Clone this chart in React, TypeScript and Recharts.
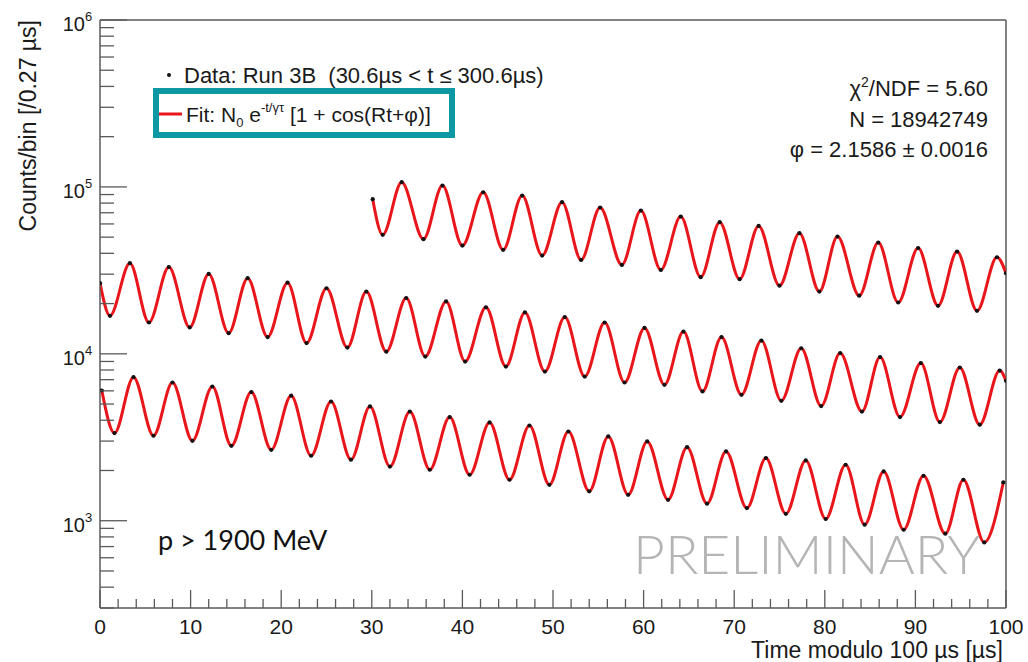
import React from 'react';
import { ComposedChart, Line, Scatter, XAxis, YAxis, ReferenceLine } from 'recharts';

// ---- data (time modulo 100 us, counts per bin) ----
const TOP_T = [30.1, 31.2, 33.3, 35.7, 37.8, 40.0, 42.3, 44.5, 46.6, 48.8, 51.0, 53.1, 55.2, 57.6, 59.7, 61.9, 64.1, 66.3, 68.4, 70.6, 72.7, 75.0, 77.2, 79.4, 81.4, 83.8, 85.9, 88.1, 90.3, 92.5, 94.6, 96.8, 99.0, 100];
const TOP_N = [84400, 51600, 106700, 48600, 101800, 44500, 92900, 42000, 88700, 38800, 81000, 36500, 75200, 34100, 72100, 31800, 66400, 28800, 61500, 28000, 58400, 25600, 52800, 23600, 50400, 22300, 46400, 20300, 43000, 19400, 41000, 18100, 37900, 30400];

const MID_T = [0, 1.1, 3.3, 5.4, 7.6, 9.9, 12.0, 14.2, 16.3, 18.5, 20.7, 22.8, 25.0, 27.3, 29.4, 31.6, 33.8, 35.9, 38.2, 40.3, 42.6, 44.8, 46.9, 49.1, 51.3, 53.5, 55.7, 57.9, 60.1, 62.3, 64.4, 66.5, 68.6, 70.8, 73.0, 75.2, 77.4, 79.6, 81.7, 84.1, 86.1, 88.3, 90.6, 92.7, 94.9, 97.1, 99.3, 100];
const MID_N = [26500, 16900, 34900, 15400, 33100, 14400, 30100, 13300, 28400, 12600, 26700, 11600, 24700, 10900, 23600, 10300, 21600, 9630, 20600, 8990, 19000, 8390, 17700, 7830, 16600, 7310, 15400, 6730, 14300, 6520, 13600, 5950, 12600, 5680, 12000, 5230, 10800, 4860, 10100, 4510, 9560, 4180, 8800, 3900, 8280, 3760, 7940, 6890];

const BOT_T = [0.2, 1.6, 3.7, 5.9, 8.0, 10.2, 12.4, 14.5, 16.7, 18.9, 21.1, 23.3, 25.5, 27.7, 29.8, 32.0, 34.2, 36.4, 38.6, 40.8, 43.0, 45.2, 47.4, 49.6, 51.7, 54.0, 56.1, 58.3, 60.4, 62.7, 64.8, 67.0, 69.1, 71.4, 73.5, 75.7, 77.9, 80.1, 82.3, 84.4, 86.5, 88.7, 90.9, 93.3, 95.3, 97.6, 99.7];
const BOT_N = [6030, 3350, 7250, 3230, 6730, 3010, 6370, 2810, 5900, 2660, 5610, 2450, 5180, 2320, 4840, 2110, 4510, 2020, 4180, 1885, 3880, 1760, 3720, 1640, 3425, 1500, 3200, 1430, 2985, 1335, 2760, 1265, 2600, 1190, 2373, 1100, 2297, 1024, 2165, 947, 1973, 883, 1860, 836, 1760, 741, 1696];

const X_TICKS = [0, 2, 4, 6, 8, 10, 12, 14, 16, 18, 20, 22, 24, 26, 28, 30, 32, 34, 36, 38, 40, 42, 44, 46, 48, 50, 52, 54, 56, 58, 60, 62, 64, 66, 68, 70, 72, 74, 76, 78, 80, 82, 84, 86, 88, 90, 92, 94, 96, 98, 100];
const Y_TICKS = [300, 400, 500, 600, 700, 800, 900, 1000, 2000, 3000, 4000, 5000, 6000, 7000, 8000, 9000, 10000, 20000, 30000, 40000, 50000, 60000, 70000, 80000, 90000, 100000, 200000, 300000, 400000, 500000, 600000, 700000, 800000, 900000, 1000000];

const zip = (t: number[], n: number[]) => t.map((v, i) => ({ t: v, n: n[i] }));
const TOP = zip(TOP_T, TOP_N);
const MID = zip(MID_T, MID_N);
const BOT = zip(BOT_T, BOT_N);

const FONT = '"Liberation Sans", Arial, Helvetica, sans-serif';
const AXIS = '#5a5a5a';
const RED = '#e8161b';
const INK = '#1a1a1a';

const XTick = (props: any) => {
  const { x, y, payload } = props;
  const v = payload.value;
  const major = v % 10 === 0;
  return (
    <g>
      <line x1={x} y1={y} x2={x} y2={y - (major ? 18 : 9)} stroke={AXIS} strokeWidth={1.3} />
      {major && (
        <text x={x} y={y + 26} textAnchor="middle" fontSize={21} fill={INK} fontFamily={FONT}>
          {v}
        </text>
      )}
    </g>
  );
};

const YTick = (props: any) => {
  const { x, y, payload } = props;
  const v = payload.value;
  const lg = Math.log10(v);
  const e = Math.round(lg);
  const major = Math.abs(lg - e) < 1e-6;
  return (
    <g>
      <line x1={x} y1={y} x2={x + (major ? 27 : 14)} y2={y} stroke={AXIS} strokeWidth={1.3} />
      {major && (
        <text x={x - 15} y={y + 11} textAnchor="end" fontSize={20} fill={INK} fontFamily={FONT}>
          10
        </text>
      )}
      {major && (
        <text x={x - 15} y={y + 1} textAnchor="start" fontSize={13} fill={INK} fontFamily={FONT}>
          {e}
        </text>
      )}
    </g>
  );
};

const Dot = (p: any) => <circle cx={p.cx} cy={p.cy} r={2.1} fill="#111" />;

export default function App() {
  return (
    <div style={{ position: 'absolute', left: 0, top: 0, width: 1028, height: 662, background: '#fff' }}>
      <ComposedChart width={1028} height={662} margin={{ top: 20, right: 22, bottom: 24, left: 40 }}>
        <XAxis
          type="number"
          dataKey="t"
          domain={[0, 100]}
          ticks={X_TICKS}
          interval={0}
          tickLine={false}
          tickSize={0}
          tickMargin={0}
          tick={<XTick />}
          axisLine={{ stroke: AXIS, strokeWidth: 1.5 }}
          height={30}
          allowDataOverflow
        />
        <YAxis
          type="number"
          dataKey="n"
          scale="log"
          domain={[300, 1000000]}
          ticks={Y_TICKS}
          interval={0}
          tickLine={false}
          tickSize={0}
          tickMargin={0}
          tick={<YTick />}
          axisLine={{ stroke: AXIS, strokeWidth: 1.5 }}
          width={60}
          allowDataOverflow
        />
        <ReferenceLine x={100} stroke={AXIS} strokeWidth={1.5} />
        <ReferenceLine y={1000000} stroke={AXIS} strokeWidth={1.5} />
        <Line data={TOP} dataKey="n" type="monotone" stroke={RED} strokeWidth={3} dot={false} isAnimationActive={false} />
        <Line data={MID} dataKey="n" type="monotone" stroke={RED} strokeWidth={3} dot={false} isAnimationActive={false} />
        <Line data={BOT} dataKey="n" type="monotone" stroke={RED} strokeWidth={3} dot={false} isAnimationActive={false} />
        <Scatter data={TOP} dataKey="n" shape={<Dot />} isAnimationActive={false} />
        <Scatter data={MID} dataKey="n" shape={<Dot />} isAnimationActive={false} />
        <Scatter data={BOT} dataKey="n" shape={<Dot />} isAnimationActive={false} />
      </ComposedChart>
      <svg
        width={1028}
        height={662}
        style={{ position: 'absolute', left: 0, top: 0, pointerEvents: 'none' }}
      >
        {/* axis titles */}
        <text transform="translate(36,20) rotate(-90)" textAnchor="end" fontSize={23} fill={INK} fontFamily={FONT}>
          Counts/bin [/0.27 µs]
        </text>
        <text x={1003} y={658} textAnchor="end" fontSize={23} fill={INK} fontFamily={FONT}>
          Time modulo 100 µs [µs]
        </text>
        {/* legend */}
        <circle cx={169} cy={75} r={2} fill="#111" />
        <text x={184} y={83} fontSize={22} fill={INK} fontFamily={FONT}>
          Data: Run 3B{'\u00a0\u00a0'}(30.6µs &lt; t ≤ 300.6µs)
        </text>
        <line x1={159} y1={114} x2={182} y2={114} stroke={RED} strokeWidth={3} />
        <text x={186} y={122} fontSize={21} fill={INK} fontFamily={FONT}>
          <tspan>Fit: N</tspan>
          <tspan fontSize={13} dy={5}>0</tspan>
          <tspan dy={-5}> e</tspan>
          <tspan fontSize={13} dy={-10}>-t/γτ</tspan>
          <tspan dy={10}> [1 + cos(Rt+φ)]</tspan>
        </text>
        <rect x={156} y={91} width={296} height={44} fill="none" stroke="#0e98a3" strokeWidth={6} />
        {/* stats */}
        <text x={988} y={96} textAnchor="end" fontSize={22} fill={INK} fontFamily={FONT}>
          <tspan>χ</tspan>
          <tspan fontSize={14} dy={-9}>2</tspan>
          <tspan dy={9}>/NDF = 5.60</tspan>
        </text>
        <text x={988} y={127} textAnchor="end" fontSize={22} fill={INK} fontFamily={FONT}>
          N = 18942749
        </text>
        <text x={988} y={157} textAnchor="end" fontSize={22} fill={INK} fontFamily={FONT}>
          φ = 2.1586 ± 0.0016
        </text>
        {/* energy cut + watermark */}
        <text x={158} y={550} fontSize={27} fill="#111" fontFamily="Lato, 'Open Sans', sans-serif">
          p &gt; 1900 MeV
        </text>
        <text
          x={633}
          y={574}
          fontSize={54}
          fill="#b5b5b5"
          fontWeight={300}
          fontFamily="Lato, 'Open Sans', sans-serif"
          textLength={347}
          lengthAdjust="spacingAndGlyphs"
        >
          PRELIMINARY
        </text>
      </svg>
    </div>
  );
}
